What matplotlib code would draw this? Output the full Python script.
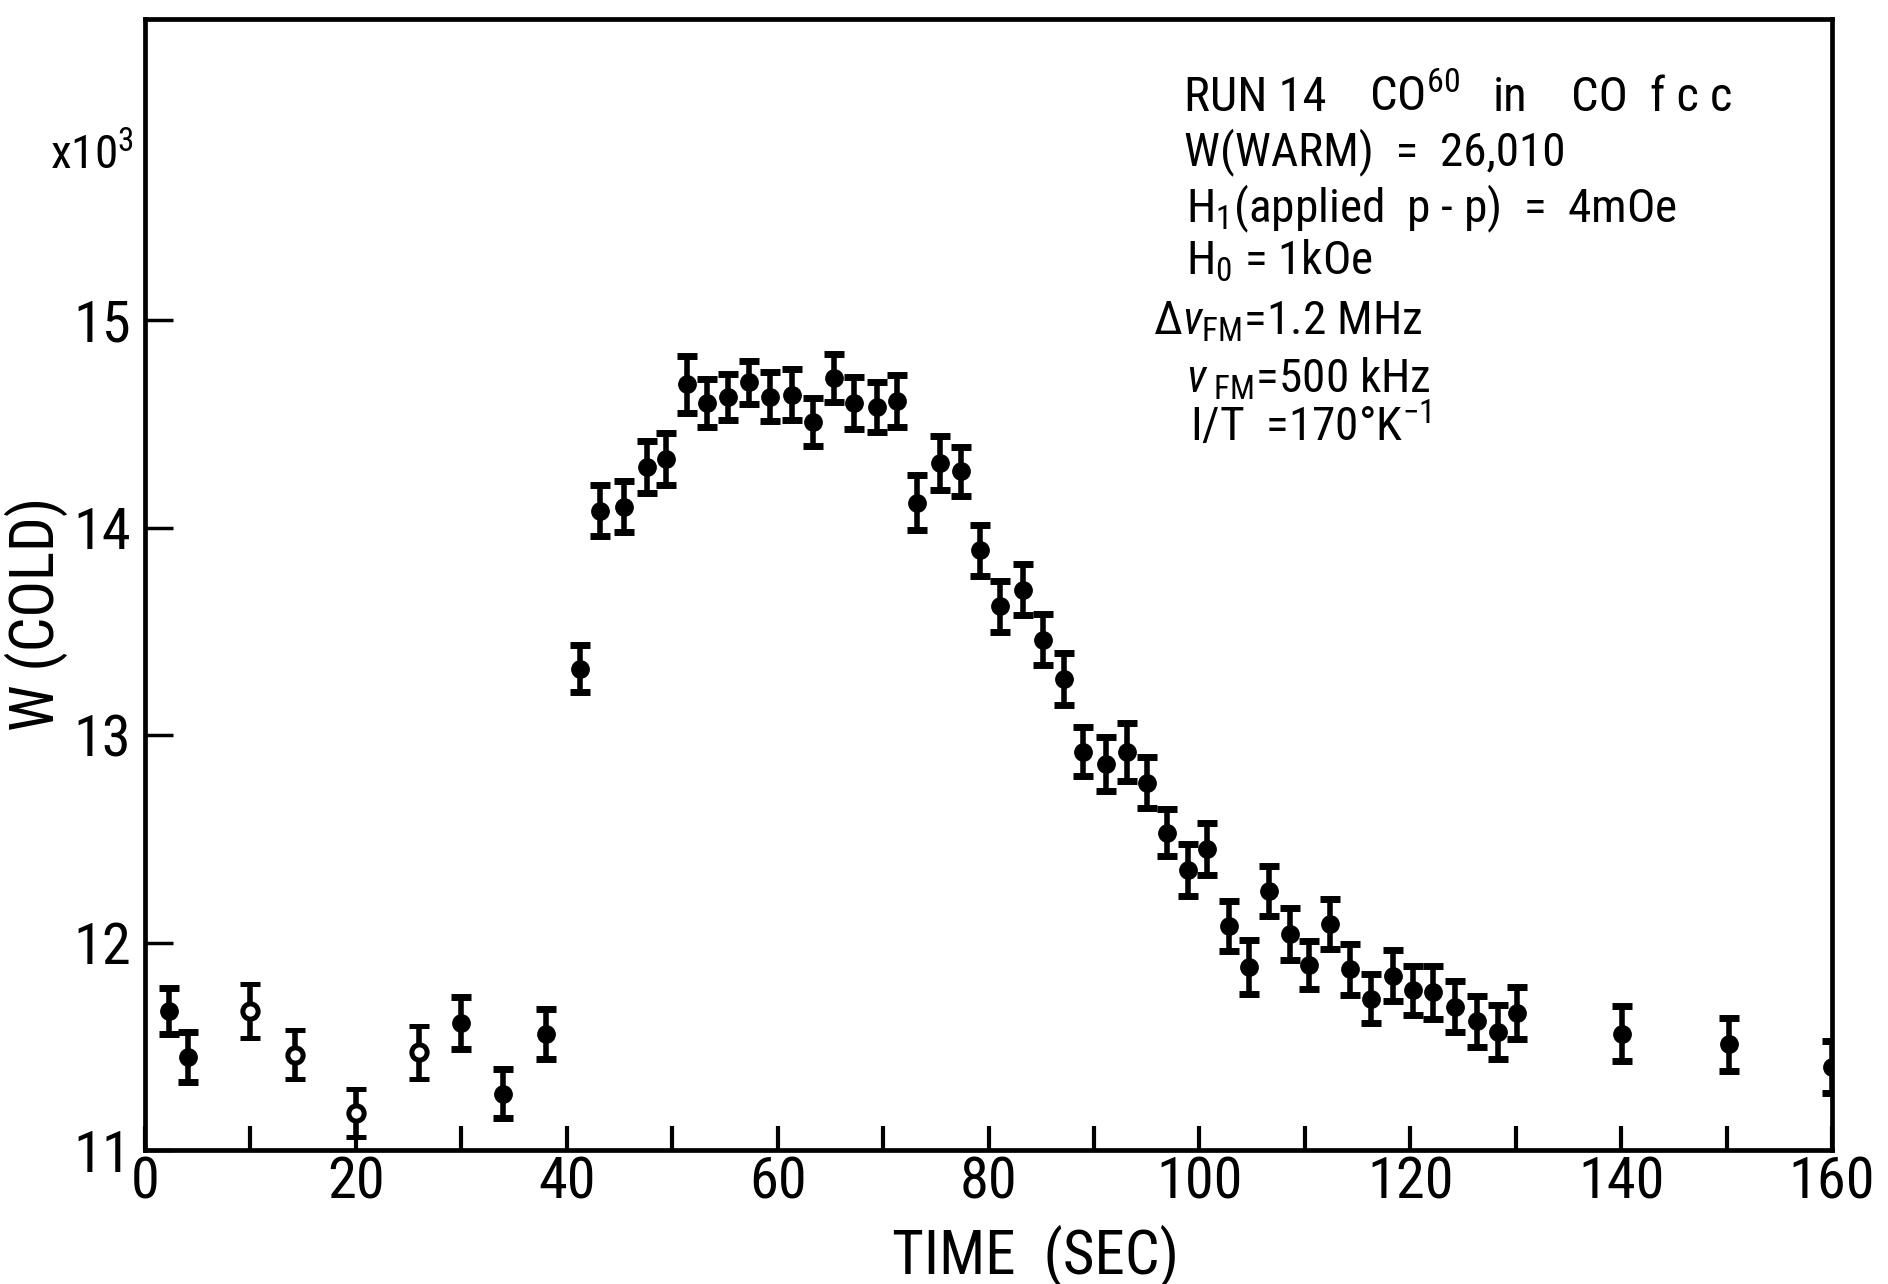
import matplotlib
matplotlib.use('Agg')
import matplotlib.pyplot as plt
from matplotlib import font_manager as fm
import numpy as np

# ---------------- data ----------------
early_time = [2.3, 4.1, 10.0, 14.2, 20.0, 26.0, 30.0, 34.0, 38.0]
early_w    = [11.67, 11.45, 11.67, 11.46, 11.18, 11.47, 11.61, 11.27, 11.56]
early_err  = [0.112, 0.12, 0.13, 0.12, 0.116, 0.126, 0.125, 0.118, 0.12]
early_open = [False, False, True, True, True, True, False, False, False]

main_time = [41.3, 43.2, 45.4, 47.6, 49.4, 51.4, 53.3, 55.3, 57.3, 59.3,
             61.4, 63.4, 65.3, 67.2, 69.4, 71.3, 73.2, 75.4, 77.4, 79.2,
             81.1, 83.3, 85.2, 87.2, 89.0, 91.1, 93.1, 95.0, 96.9, 98.9,
             100.7, 102.8, 104.7, 106.6, 108.6, 110.4, 112.4, 114.3, 116.3, 118.4,
             120.3, 122.2, 124.2, 126.3, 128.3, 130.1, 140.1, 150.2, 160.0]
main_w = [13.32, 14.08, 14.10, 14.29, 14.33, 14.69, 14.60, 14.63, 14.70, 14.63,
          14.64, 14.51, 14.72, 14.60, 14.58, 14.61, 14.12, 14.31, 14.27, 13.89,
          13.62, 13.70, 13.46, 13.27, 12.92, 12.86, 12.92, 12.77, 12.53, 12.35,
          12.45, 12.08, 11.88, 12.25, 12.04, 11.89, 12.09, 11.87, 11.73, 11.84,
          11.77, 11.76, 11.69, 11.62, 11.57, 11.66, 11.56, 11.51, 11.40]
main_err = [0.112, 0.123, 0.123, 0.126, 0.127, 0.137, 0.117, 0.11, 0.104, 0.118,
            0.122, 0.116, 0.117, 0.127, 0.119, 0.124, 0.133, 0.131, 0.12, 0.124,
            0.122, 0.122, 0.122, 0.124, 0.118, 0.128, 0.14, 0.124, 0.112, 0.126,
            0.127, 0.12, 0.13, 0.12, 0.126, 0.116, 0.119, 0.124, 0.118, 0.122,
            0.119, 0.128, 0.123, 0.124, 0.131, 0.126, 0.132, 0.128, 0.123]

x_ticks = list(range(0, 161, 10))
x_labels = [str(t) if t % 20 == 0 else '' for t in x_ticks]
y_ticks = [11, 12, 13, 14, 15]
y_labels = ['11', '12', '13', '14', '15']

title_parts = ["RUN 14", r"CO$^{60}$", "in", "CO", "f c c"]
info_lines = [
    r"W(WARM)  =  26,010",
    r"H$_1$(applied  p - p)  =  4mOe",
    r"H$_0$ = 1kOe",
    r"$\Delta\nu_{\mathrm{FM}}$=1.2 MHz",
    r"$\nu_{\ \mathrm{FM}}$=500 kHz",
    r"I/T  =170°K$^{-1}$",
]

# ---------------- fonts: prefer a condensed sans ----------------
names = {f.name for f in fm.fontManager.ttflist}
fam, stretch = None, 'normal'
for n in ['Liberation Sans Narrow', 'Roboto Condensed', 'Open Sans Condensed',
          'Noto Sans Condensed', 'Arial Narrow', 'DejaVu Sans Condensed']:
    if n in names:
        fam = n
        break
if fam is None:
    for f in fm.fontManager.ttflist:
        if str(f.stretch) in ('condensed', 'semi-condensed', 'extra-condensed') and \
                f.name in ('DejaVu Sans', 'Noto Sans', 'Roboto', 'Open Sans', 'Liberation Sans'):
            fam, stretch = f.name, 'condensed'
            break
if fam is None:
    fam = 'Roboto' if 'Roboto' in names else 'DejaVu Sans'

plt.rcParams['font.family'] = [fam, 'DejaVu Sans']
plt.rcParams['font.stretch'] = stretch
suffix = ':stretch=condensed' if stretch != 'normal' else ''
plt.rcParams['mathtext.fontset'] = 'custom'
plt.rcParams['mathtext.rm'] = fam + suffix
plt.rcParams['mathtext.it'] = fam + ':italic' + suffix
plt.rcParams['mathtext.bf'] = fam + ':bold' + suffix
plt.rcParams['mathtext.sf'] = fam + suffix

W, H = 1888, 1284
fig = plt.figure(figsize=(W / 100, H / 100), dpi=100)
fig.patch.set_facecolor('white')

def fx(px):
    return px / W

def fy(py):
    return 1 - py / H

# axes: x=0 at px 145, x=160 at px 1832; y=11 at py 1150, 207.5 px per unit
ylim = (11, 16.45)
top_py = 1150 - (ylim[1] - ylim[0]) * 207.5
ax = fig.add_axes([fx(145), fy(1150), fx(1832) - fx(145), (1150 - top_py) / H])
ax.set_xlim(0, 160)
ax.set_ylim(*ylim)

for s in ax.spines.values():
    s.set_linewidth(3.4)
    s.set_color('black')

ax.set_xticks(x_ticks)
ax.set_xticklabels(x_labels)
ax.set_yticks(y_ticks)
ax.set_yticklabels(y_labels)
ax.tick_params(axis='x', direction='in', length=17, width=3, labelsize=42, pad=4)
ax.tick_params(axis='y', direction='in', length=20, width=2.5, labelsize=42, pad=10)

eb_kw = dict(fmt='o', color='black', ecolor='black', elinewidth=4.0,
             capsize=7, capthick=5, ms=12.5, zorder=3)

mt = np.array(main_time); mw = np.array(main_w); me = np.array(main_err)
ax.errorbar(mt, mw, yerr=me, mfc='black', mec='black', **eb_kw)

et = np.array(early_time); ew = np.array(early_w); ee = np.array(early_err)
eo = np.array(early_open)
ax.errorbar(et[~eo], ew[~eo], yerr=ee[~eo], mfc='black', mec='black', **eb_kw)
kw_open = dict(eb_kw); kw_open['ms'] = 11
ax.errorbar(et[eo], ew[eo], yerr=ee[eo], mfc='white', mec='black', mew=3.6, **kw_open)

# labels
fig.text(fx(1036), fy(1256), 'TIME  (SEC)', ha='center', va='center', fontsize=44)
fig.text(fx(36), fy(614), 'W (COLD)', ha='center', va='center', rotation=90, fontsize=44)
fig.text(fx(50), fy(169), r'x10$^3$', ha='left', va='baseline', fontsize=34)

# info block: first line placed word by word (wide spacing in the original)
title_x = [1184, 1369, 1493, 1571, 1650]
for px, part in zip(title_x, title_parts):
    fig.text(fx(px), fy(111), part, ha='left', va='baseline', fontsize=35)

info_pos = [(1184, 165), (1186, 222), (1186, 275),
            (1153, 334), (1186, 393), (1190, 441)]
for (px, py), line in zip(info_pos, info_lines):
    fig.text(fx(px), fy(py), line, ha='left', va='baseline', fontsize=34)

fig.savefig('out.png', dpi=100, facecolor='white')
